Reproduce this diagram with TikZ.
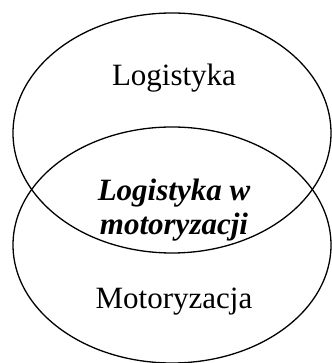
\documentclass[tikz,border=0pt]{standalone}
\usepackage{fontspec}
\setmainfont{Liberation Serif}
\usetikzlibrary{shapes.geometric}
\begin{document}
\begin{tikzpicture}[x=1pt,y=1pt,
  setring/.style={draw=black, line width=1.3pt, ellipse, inner sep=0pt,
    minimum width=318pt, minimum height=#1},
  plainlabel/.style={anchor=base, inner sep=0pt, font=\fontsize{31}{33}\selectfont},
  keylabel/.style={anchor=base, inner sep=0pt, font=\fontsize{31}{33}\selectfont\bfseries\itshape}]
  \useasboundingbox (0,0) rectangle (331,363);
  % the two overlapping sets
  \node[setring=240pt] (logistics) at (172,230) {};
  \node[setring=236pt] (automotive) at (172,118) {};
  % labels
  \node[plainlabel] (logtext) at (174,277) {Logistyka};
  \node[keylabel] (commonA) at (174,162) {Logistyka w};
  \node[keylabel] (commonB) at (174,128) {motoryzacji};
  \node[plainlabel] (mototext) at (174,54) {Motoryzacja};
\end{tikzpicture}
\end{document}
